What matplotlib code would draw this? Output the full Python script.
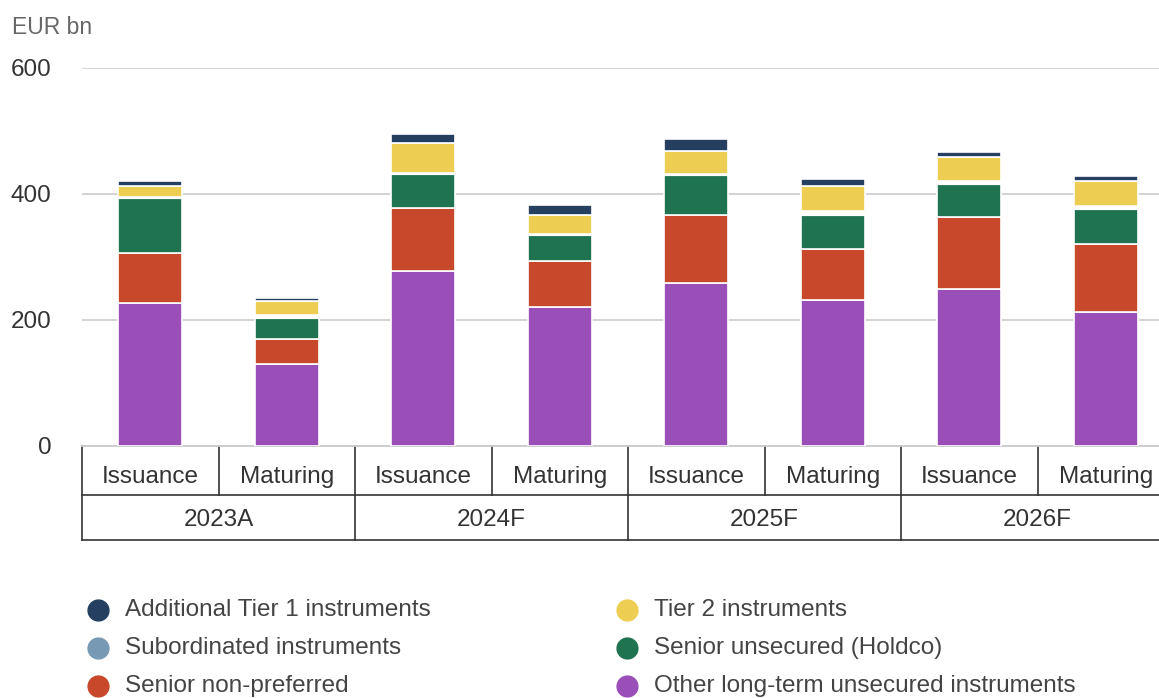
import numpy as np
import matplotlib.pyplot as plt
from matplotlib.lines import Line2D

plt.rcParams['font.family'] = ['Liberation Sans', 'DejaVu Sans']

years = ['2023A', '2024F', '2025F', '2026F']
kinds = ['Issuance', 'Maturing']

# EUR bn per bar: 2023A iss, 2023A mat, 2024F iss, ... 2026F mat
other_lt = [227, 130, 278, 221, 259, 231, 250, 212]
senior_np = [80, 40, 99, 73, 108, 82, 114, 108]
holdco = [89, 35, 57, 42, 64, 55, 54, 57]
subordinated = [0, 3, 0, 0, 0, 5, 3, 4]
tier2 = [16, 22, 47, 31, 38, 40, 38, 40]
at1 = [8, 5, 15, 16, 19, 11, 7, 8]

series = [
    ('Other long-term unsecured instruments', other_lt, '#9a4fb8'),
    ('Senior non-preferred', senior_np, '#c8482c'),
    ('Senior unsecured (Holdco)', holdco, '#207350'),
    ('Subordinated instruments', subordinated, '#7799b3'),
    ('Tier 2 instruments', tier2, '#edcd52'),
    ('Additional Tier 1 instruments', at1, '#243f5f'),
]

W, H = 1159, 698
fig = plt.figure(figsize=(W / 100, H / 100), dpi=100)

# plot area in pixels: left 82, baseline 446, 600 at y=68, 136.5 px per bar
left, base, top, step = 82, 446, 68, 136.5
ax = fig.add_axes([left / W, (H - base) / H, 8 * step / W, (base - top) / H])

x = np.arange(8)
bottom = np.zeros(8)
for name, vals, col in series:
    vals = np.array(vals, dtype=float)
    # the thin subordinated slices are mostly swallowed by their white outline
    lw = 3.0 if name.startswith('Subordinated') else 1.2
    ax.bar(x, vals, width=0.47, bottom=bottom, color=col,
           edgecolor='white', linewidth=lw, zorder=3)
    bottom += vals

ax.set_xlim(-0.5, 7.5)
ax.set_ylim(0, 600)
ax.set_yticks([0, 200, 400, 600])
ax.yaxis.grid(True, color='#d0d0d0', linewidth=1.3, zorder=0)
ax.tick_params(axis='y', length=0, pad=22, labelsize=17.5, labelcolor='#333333')
ax.tick_params(axis='x', length=0, labelbottom=False)
for s in ['top', 'right', 'left']:
    ax.spines[s].set_visible(False)
ax.spines['bottom'].set_color('#cccccc')
ax.spines['bottom'].set_linewidth(1.3)

fig.text(12 / W, (H - 28) / H, 'EUR bn', fontsize=16.5, color='#666666',
         va='center', ha='left')

# two-row category table under the bars
ah = base - top
def fy(px):
    return -(px - base) / ah

tr = ax.get_xaxis_transform()
row_mid, row_bot = 495, 540
line_kw = dict(color='#333333', linewidth=1.2, clip_on=False, transform=tr)
for i in range(9):
    xb = i - 0.5
    y_end = row_bot if i % 2 == 0 else row_mid
    ax.plot([xb, xb], [fy(base), fy(y_end)], **line_kw)
ax.plot([-0.5, 8.5], [fy(row_mid), fy(row_mid)], **line_kw)
ax.plot([-0.5, 8.5], [fy(row_bot), fy(row_bot)], **line_kw)

for i in range(8):
    ax.text(i, fy(477), kinds[i % 2], transform=tr, ha='center', va='center',
            fontsize=17.5, color='#333333')
for j, yr in enumerate(years):
    ax.text(2 * j + 0.5, fy(520), yr, transform=tr, ha='center', va='center',
            fontsize=17.5, color='#333333')

# legend in two columns, row-major order
legend_order = [5, 4, 3, 2, 1, 0]
col_x = [98, 627]
row_y = [610, 648, 686]
for k, idx in enumerate(legend_order):
    name, _, col = series[idx]
    cx = col_x[k % 2]
    cy = row_y[k // 2]
    fig.add_artist(Line2D([cx / W], [(H - cy) / H], marker='o', markersize=15,
                          color=col, linestyle='none', transform=fig.transFigure))
    fig.text((cx + 27) / W, (H - cy) / H, name, fontsize=17.5, color='#444444',
             va='center', ha='left')

fig.savefig('out.png', dpi=100)
